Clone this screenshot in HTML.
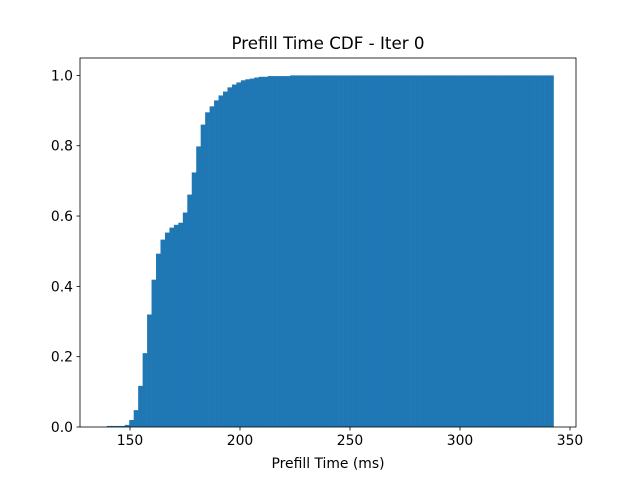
<!DOCTYPE html>
<html><head><meta charset="utf-8"><style>
body{margin:0;background:#fff}
svg text{font-family:"DejaVu Sans","Liberation Sans",sans-serif;fill:#000}
</style></head><body>
<svg id="chart" width="640" height="480">
<rect width="640" height="480" fill="#fff"/>
<text x="328" y="49" font-size="16.7" text-anchor="middle">Prefill Time CDF - Iter 0</text>
<g id="bars"></g>
<g id="axes"></g>
<text x="328" y="468" font-size="13.9" text-anchor="middle">Prefill Time (ms)</text>
</svg>
<script>
const binStart = 139.5;
const binWidth = 2.03;
const cdfValues = [0.003,0.003,0.003,0.003,0.006,0.02,0.048,0.117,0.21,0.32,
0.419,0.493,0.533,0.553,0.567,0.575,0.581,0.610,0.661,0.724,
0.798,0.860,0.895,0.912,0.929,0.943,0.954,0.966,0.974,0.980,
0.986,0.989,0.991,0.994,0.996,0.996,0.998,0.998,0.998,0.998,
0.998,1,1,1,1,1,1,1,1,1,1,1,1,1,1,1,1,1,1,1,1,1,1,1,1,1,1,1,1,1,
1,1,1,1,1,1,1,1,1,1,1,1,1,1,1,1,1,1,1,1,1,1,1,1,1,1,1,1,1,1];
const xTicks = [150,200,250,300,350];
const yTicks = [0,0.2,0.4,0.6,0.8,1.0];
const yTickLabels = ["0.0","0.2","0.4","0.6","0.8","1.0"];

const L=80,R=576,T=58,B=427;
function xs(v){return 130+(v-150)*2.2;}
function ys(v){return B-v*351.6;}
const NS="http://www.w3.org/2000/svg";
const bars=document.getElementById('bars');
const axes=document.getElementById('axes');
cdfValues.forEach((v,i)=>{
  const x0=xs(binStart+i*binWidth), x1=xs(binStart+(i+1)*binWidth);
  const r=document.createElementNS(NS,'rect');
  r.setAttribute('x',x0);r.setAttribute('width',x1-x0+0.3);
  r.setAttribute('y',ys(v));r.setAttribute('height',B-ys(v));
  r.setAttribute('fill','#1f77b4');
  
  
  bars.appendChild(r);
});
const frame=document.createElementNS(NS,'rect');
frame.setAttribute('x',L);frame.setAttribute('y',T);frame.setAttribute('width',R-L);frame.setAttribute('height',B-T);
frame.setAttribute('fill','none');frame.setAttribute('stroke','#000');frame.setAttribute('stroke-width','0.8');


axes.appendChild(frame);
xTicks.forEach(t=>{
  const x=xs(t);
  const l=document.createElementNS(NS,'line');
  l.setAttribute('x1',x);l.setAttribute('x2',x);l.setAttribute('y1',B);l.setAttribute('y2',B+3.5);
  l.setAttribute('stroke','#000');l.setAttribute('stroke-width','0.8');
  
  
  axes.appendChild(l);
  const tx=document.createElementNS(NS,'text');
  tx.setAttribute('x',x);tx.setAttribute('y',B+18);tx.setAttribute('font-size','13.9');tx.setAttribute('text-anchor','middle');
  tx.textContent=t;
  
  
  axes.appendChild(tx);
});
yTicks.forEach((t,i)=>{
  const y=ys(t);
  const l=document.createElementNS(NS,'line');
  l.setAttribute('x1',L-3.5);l.setAttribute('x2',L);l.setAttribute('y1',y);l.setAttribute('y2',y);
  l.setAttribute('stroke','#000');l.setAttribute('stroke-width','0.8');
  
  
  axes.appendChild(l);
  const tx=document.createElementNS(NS,'text');
  tx.setAttribute('x',L-7);tx.setAttribute('y',y+5);tx.setAttribute('font-size','13.9');tx.setAttribute('text-anchor','end');
  tx.textContent=yTickLabels[i];
  
  
  axes.appendChild(tx);
});
</script>
</body></html>
